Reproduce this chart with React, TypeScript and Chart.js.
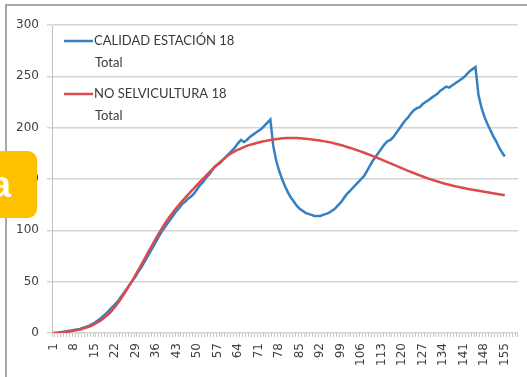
import React, { useEffect, useRef } from "react";
import { Chart, registerables } from "chart.js";

Chart.register(...registerables);

const categories: string[] = [];
for (let i = 1; i <= 159; i++) categories.push(String(i));

const yTicks = [0, 50, 100, 150, 200, 250, 300];

const seriesNames = ["CALIDAD ESTACIÓN 18", "NO SELVICULTURA 18"];
const seriesSub = ["Total", "Total"];

const calidadEstacion = [
  0, 0, 0.5, 1, 1.5, 2, 2.5, 3, 3.5, 4,
  5, 6, 7, 8.5, 10, 12, 14, 16.5, 19, 22,
  25, 28, 31, 35, 39, 43, 47, 51, 55, 60,
  64, 69, 74, 79, 84, 89, 94, 99, 103, 107,
  111, 115, 119, 122, 126, 128, 131, 133, 136, 140,
  144, 147, 151, 154, 158, 162, 164, 166, 169, 172,
  175, 178, 181, 185, 188, 186, 188, 191, 193, 195,
  197, 199, 202, 205, 208, 182, 168, 158, 150, 143,
  137, 132, 128, 124, 121, 119, 117, 116, 115, 114,
  114, 114, 115, 116, 117, 119, 121, 124, 127, 131,
  135, 138, 141, 144, 147, 150, 153, 158, 163, 168,
  172, 176, 180, 184, 187, 188, 191, 195, 199, 203,
  207, 210, 214, 217, 219, 220, 223, 225, 227, 229,
  231, 233, 236, 238, 240, 239, 241, 243, 245, 247,
  249, 252, 255, 257, 259, 232, 220, 211, 204, 198,
  192, 187, 181, 176, 172,
];

const noSelvicultura = [
  0, 0, 0.2, 0.5, 0.9, 1.3, 1.8, 2.3, 2.9, 3.5,
  4.2, 5.0, 6.0, 7.2, 8.6, 10.2, 12.0, 14.2, 16.5, 19,
  22, 25.5, 29.3, 33.3, 37.6, 42.1, 46.8, 51.6, 56.5, 61.5,
  66.6, 71.8, 77, 82.2, 87.3, 92.3, 97.2, 101.9, 106.4, 110.6,
  114.6, 118.4, 122, 125.4, 128.7, 131.9, 135, 138.1, 141.2, 144.2,
  147.2, 150.2, 153.1, 156, 158.8, 161.6, 164.3, 166.9, 169.4, 171.7,
  173.8, 175.6, 177.2, 178.6, 179.9, 181.1, 182.2, 183.2, 184.1, 184.9,
  185.6, 186.3, 186.9, 187.5, 188, 188.5, 188.9, 189.3, 189.6, 189.8,
  190, 190, 190, 189.9, 189.7, 189.5, 189.2, 188.9, 188.6, 188.2,
  187.8, 187.4, 186.9, 186.4, 185.9, 185.3, 184.6, 183.9, 183.1, 182.3,
  181.4, 180.5, 179.6, 178.6, 177.6, 176.6, 175.6, 174.5, 173.4, 172.3,
  171.2, 170.0, 168.8, 167.6, 166.4, 165.2, 164.0, 162.8, 161.6, 160.4,
  159.2, 158.0, 156.8, 155.7, 154.6, 153.5, 152.4, 151.4, 150.4, 149.4,
  148.5, 147.6, 146.7, 145.9, 145.1, 144.4, 143.7, 143.0, 142.4, 141.8,
  141.2, 140.6, 140.1, 139.6, 139.1, 138.6, 138.1, 137.6, 137.1, 136.6,
  136.1, 135.6, 135.1, 134.6, 134.1,
];

const BLUE = "#3580c2";
const RED = "#dc4a4c";

const legendPlugin = {
  id: "customLegend",
  afterDraw(chart: any) {
    const ctx = chart.ctx;
    const entries = [
      { color: BLUE, name: seriesNames[0], sub: seriesSub[0], y: 41 },
      { color: RED, name: seriesNames[1], sub: seriesSub[1], y: 94 },
    ];
    ctx.save();
    ctx.font = "13px Lato";
    ctx.textBaseline = "middle";
    ctx.textAlign = "left";
    for (const e of entries) {
      ctx.strokeStyle = e.color;
      ctx.lineWidth = 2.5;
      ctx.beginPath();
      ctx.moveTo(64, e.y);
      ctx.lineTo(93, e.y);
      ctx.stroke();
      ctx.fillStyle = "#3a3a3a";
      ctx.fillText(e.name, 94, e.y);
      ctx.fillText(e.sub, 95, e.y + 22);
    }
    ctx.restore();
  },
};

export default function App() {
  const ref = useRef<HTMLCanvasElement | null>(null);

  useEffect(() => {
    if (!ref.current) return;
    const chart = new Chart(ref.current, {
      type: "line",
      data: {
        labels: categories,
        datasets: [
          {
            label: seriesNames[0] + " " + seriesSub[0],
            data: calidadEstacion,
            borderColor: BLUE,
            borderWidth: 2.5,
            pointRadius: 0,
            tension: 0,
            fill: false,
            order: 1,
          },
          {
            label: seriesNames[1] + " " + seriesSub[1],
            data: noSelvicultura,
            borderColor: RED,
            borderWidth: 2.5,
            pointRadius: 0,
            cubicInterpolationMode: "monotone",
            fill: false,
            order: 0,
          },
        ],
      },
      options: {
        responsive: false,
        animation: false,
        devicePixelRatio: 1,
        layout: { padding: { top: 25, right: 9, left: 0, bottom: 0 } },
        plugins: { legend: { display: false }, tooltip: { enabled: false } },
        scales: {
          x: {
            type: "category",
            offset: true,
            grid: {
              display: true,
              drawOnChartArea: false,
              drawTicks: true,
              tickLength: 4,
              color: "#c8c8c8",
              offset: true,
            },
            border: { display: false },
            ticks: {
              autoSkip: false,
              maxRotation: 90,
              minRotation: 90,
              padding: 6,
              color: "#404040",
              font: { family: "DejaVu Sans", size: 12 },
              callback: (_v: any, i: number) => (i % 7 === 0 ? categories[i] : ""),
            },
            afterFit: (s: any) => {
              s.height = 44;
              s.paddingLeft = 0;
              s.paddingRight = 0;
            },
          },
          y: {
            min: 0,
            max: 300,
            afterBuildTicks: (s: any) => {
              s.ticks = yTicks.map((v) => ({ value: v }));
            },
            grid: {
              color: "#d4d4d4",
              lineWidth: 1.5,
              drawTicks: true,
              tickLength: 5,
            },
            border: { display: true, color: "#c0c0c0", width: 1 },
            ticks: {
              padding: 8,
              color: "#404040",
              font: { family: "DejaVu Sans", size: 12 },
            },
            afterFit: (s: any) => {
              s.width = 52;
            },
          },
        },
      },
      plugins: [legendPlugin],
    });
    return () => chart.destroy();
  }, []);

  return (
    <div
      style={{
        position: "fixed",
        left: 0,
        top: 0,
        width: 527,
        height: 377,
        overflow: "hidden",
        background: "#ffffff",
      }}
    >
      <div
        style={{
          position: "absolute",
          left: 5,
          top: 4,
          width: 600,
          height: 500,
          borderTop: "2px solid #a8a8a8",
          borderLeft: "2px solid #a8a8a8",
        }}
      />
      <canvas
        ref={ref}
        width={527}
        height={377}
        style={{ position: "absolute", left: 0, top: 0, width: 527, height: 377 }}
      />
      <div
        style={{
          position: "absolute",
          left: -27,
          top: 151,
          width: 64,
          height: 67,
          borderRadius: 9,
          background: "#ffc000",
          color: "#ffffff",
          fontFamily: "Liberation Sans, Arial, sans-serif",
          fontWeight: "bold",
          fontSize: 36,
          lineHeight: "67px",
          textAlign: "center",
          paddingRight: 8,
          boxSizing: "border-box",
        }}
      >
        a
      </div>
    </div>
  );
}
